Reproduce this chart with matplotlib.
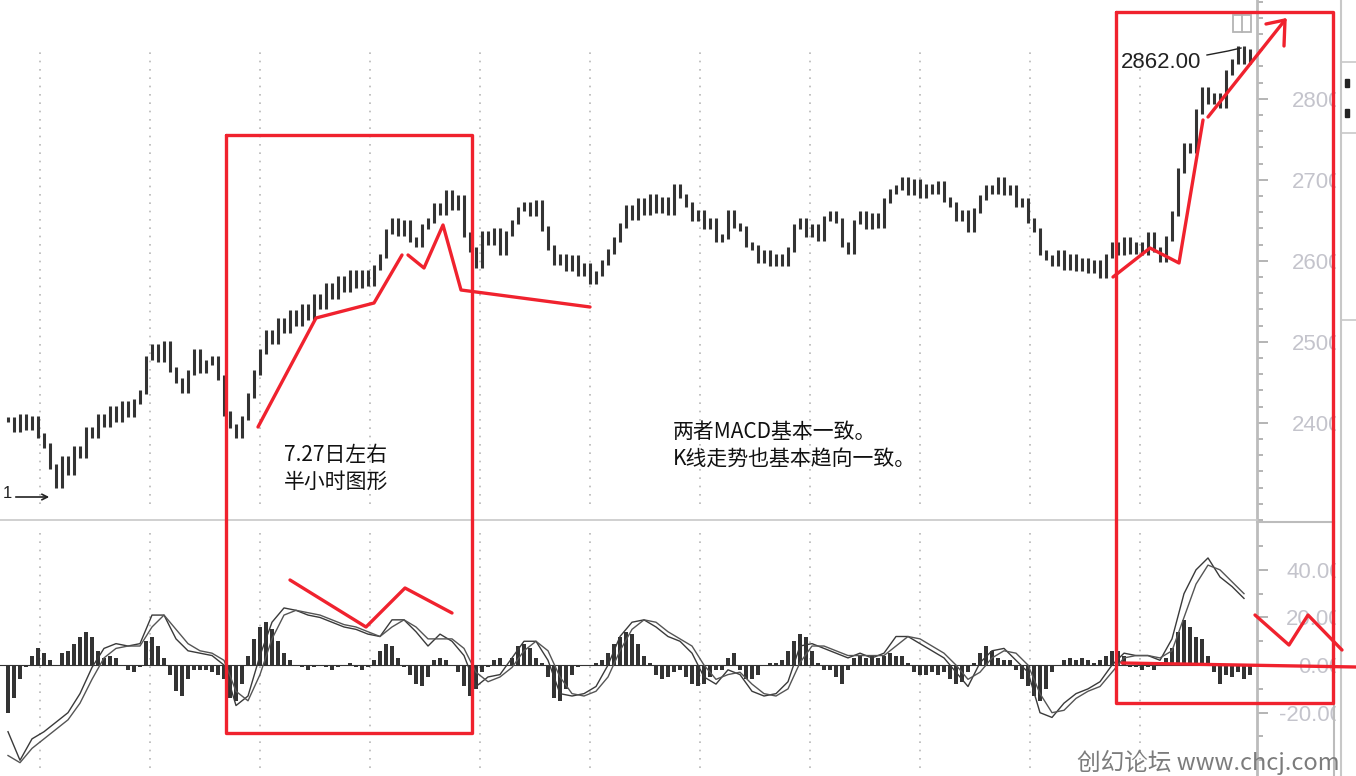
import matplotlib
matplotlib.use('Agg')
import matplotlib.pyplot as plt
import numpy as np
from matplotlib.ticker import MultipleLocator, FormatStrFormatter
from matplotlib.patches import Rectangle

W, H = 1356, 776
RED = '#f0222e'
INK = '#333333'
AXIS_GRAY = '#bcbcbc'
LABEL_GRAY = '#c4c4cc'
CJK = ['Noto Sans CJK SC', 'DejaVu Sans']
LATIN = ['Liberation Sans', 'DejaVu Sans']

# price closes, one bar every 6 px of the original chart
close = [
    2404, 2392, 2408, 2394, 2406, 2384, 2372, 2346, 2322, 2356,
    2338, 2368, 2360, 2392, 2384, 2408, 2398, 2418, 2404, 2424,
    2410, 2426, 2438, 2480, 2494, 2478, 2498, 2466, 2452, 2440,
    2462, 2488, 2464, 2474, 2480, 2456, 2412, 2396, 2384, 2406,
    2434, 2462, 2488, 2512, 2500, 2526, 2514, 2536, 2522, 2544,
    2530, 2556, 2544, 2570, 2556, 2578, 2564, 2586, 2570, 2586,
    2572, 2592, 2606, 2636, 2650, 2634, 2648, 2626, 2620, 2642,
    2650, 2668, 2660, 2684, 2666, 2678, 2632, 2614, 2594, 2634,
    2622, 2638, 2610, 2634, 2648, 2664, 2670, 2658, 2672, 2640,
    2616, 2598, 2606, 2590, 2604, 2584, 2594, 2574, 2584, 2598,
    2612, 2626, 2644, 2666, 2654, 2674, 2660, 2680, 2662, 2676,
    2660, 2692, 2680, 2670, 2652, 2660, 2642, 2650, 2626, 2630,
    2660, 2644, 2640, 2620, 2616, 2600, 2610, 2596, 2606, 2596,
    2614, 2642, 2650, 2632, 2642, 2628, 2652, 2658, 2650, 2620,
    2612, 2648, 2658, 2642, 2656, 2644, 2674, 2686, 2690, 2700,
    2684, 2698, 2680, 2692, 2686, 2696, 2676, 2670, 2652, 2660,
    2638, 2662, 2678, 2690, 2686, 2700, 2684, 2690, 2670, 2674,
    2650, 2638, 2610, 2604, 2596, 2610, 2592, 2606, 2590, 2600,
    2588, 2598, 2582, 2606, 2620, 2610, 2626, 2612, 2620, 2610,
    2632, 2614, 2602, 2628, 2658, 2712, 2742, 2736, 2784, 2812,
    2796, 2804, 2792, 2832, 2846, 2862, 2846, 2858,
]

# MACD histogram, same bars as the price
macd_hist = [
    -20, -14, -6, -1, 4, 7, 5, 2, 0, 5,
    6, 9, 12, 14, 12, 6, 3, 4, 3, 0,
    -2, -3, -1, 10, 12, 8, 3, -4, -11, -13,
    -6, -2, -2, -2, -3, -4, -6, -14, -15, -8,
    4, 11, 16, 18, 15, 10, 5, 2, 0, -1,
    -2, -1, 0, -1, -2, -1, 0, 1, -1, -2,
    -1, 2, 6, 9, 8, 3, -1, -4, -8, -9,
    -5, 2, 3, 2, 0, -3, -9, -13, -10, -3,
    -1, 2, 3, 0, 3, 8, 9, 7, 3, 1,
    -5, -14, -15, -10, -4, -1, 0, 0, 1, 2,
    5, 9, 12, 14, 13, 9, 4, 1, -4, -6,
    -5, -3, -2, -5, -8, -9, -8, -5, -2, -2,
    3, 5, -2, -6, -6, -4, 0, 1, 1, 2,
    6, 10, 13, 12, 6, 1, -2, -2, -5, -8,
    -2, 3, 4, 3, 4, 3, 4, 5, 4, 4,
    1, -3, -4, -4, -3, -4, -3, -6, -8, -7,
    -3, 1, 5, 8, 6, 3, 2, 2, -2, -6,
    -9, -13, -15, -10, -3, 0, 2, 3, 2, 3,
    2, 1, 2, 4, 6, 6, 4, -1, -1, -2,
    -1, -2, 0, 3, 7, 14, 19, 16, 12, 11,
    4, -3, -8, -4, -5, -3, -6, -4,
]

# DIF / DEA lines, one point every second bar
dif = [
    -28, -40, -31, -28, -24, -20, -12, -1, 7, 9,
    8, 9, 21, 21, 11, 6, 5, 4, 0, -17,
    -13, 4, 18, 24, 23, 21, 20, 18, 16, 15,
    13, 12, 19, 19, 14, 8, 13, 10, 4, -9,
    -5, -4, 3, 10, 10, 2, -12, -13, -12, -9,
    0, 12, 18, 19, 16, 12, 10, 5, -5, -8,
    -2, -4, -11, -13, -12, -7, 8, 9, 7, 5,
    3, 5, 3, 5, 12, 12, 9, 6, 3, -3,
    -9, 1, 6, 7, 2, -3, -20, -22, -16, -12,
    -10, -7, 0, 5, 4, 4, 2, 11, 30, 40,
    45, 37, 33, 28,
]
dea = [
    -38, -41, -35, -31, -27, -23, -16, -6, 3, 7,
    8, 8, 16, 21, 15, 9, 6, 5, 2, -11,
    -15, -4, 11, 21, 23, 22, 21, 19, 17, 16,
    14, 12, 16, 19, 16, 11, 11, 11, 7, -3,
    -7, -5, -1, 6, 10, 6, -5, -12, -13, -11,
    -5, 6, 15, 19, 18, 14, 11, 8, 0, -6,
    -4, -3, -8, -12, -13, -10, 1, 8, 8, 6,
    4, 4, 4, 4, 8, 12, 11, 8, 5, 0,
    -6, -3, 3, 6, 5, 0, -12, -20, -19, -14,
    -11, -9, -3, 3, 4, 4, 3, 6, 20, 34,
    42, 40, 35, 30,
]

price_ticks = [2400, 2500, 2600, 2700, 2800]
macd_ticks = [-20, 0, 20, 40]

# hand-drawn red annotations, in screen pixels of the original picture
box_left = [(226, 135), (472, 135), (472, 733), (226, 733), (226, 135)]
box_right = [(1116, 12), (1333, 12), (1333, 703), (1116, 703), (1116, 12)]
stroke_a = [(258, 427), (316, 318), (374, 303), (402, 255)]
stroke_b = [(408, 255), (424, 268), (443, 225), (461, 290), (590, 307)]
stroke_c = [(1113, 277), (1150, 248), (1179, 263), (1203, 120)]
stroke_d = [(1208, 117), (1285, 20)]
arrow_head = [(1266, 24), (1285, 20), (1284, 46)]
macd_a = [(290, 580), (366, 627), (405, 588), (452, 613)]
macd_b = [(1255, 615), (1289, 645), (1308, 615), (1342, 650)]
macd_zero = [(1122, 663), (1356, 667)]


def px_rect(x0, y0, x1, y1):
    return [x0 / W, 1 - y1 / H, (x1 - x0) / W, (y1 - y0) / H]


fig = plt.figure(figsize=(W / 100, H / 100), dpi=100)
fig.patch.set_facecolor('white')

ax1 = fig.add_axes(px_rect(0, 0, 1257, 520))
ax2 = fig.add_axes(px_rect(0, 522, 1257, 776))

step = 6.0          # px per bar
x0_px = 8.0         # first bar position
xlim = (-x0_px / step, (1257 - x0_px) / step)

# price bars: each bar spans the move from the previous close
idx = np.arange(len(close))
c = np.array(close, dtype=float)
prev = np.r_[c[0], c[:-1]]
ax1.vlines(idx, np.minimum(prev, c) - 3, np.maximum(prev, c) + 3, color=INK, lw=2.2, zorder=3)

# MACD
hidx = np.arange(len(macd_hist))
ax2.bar(hidx, macd_hist, width=0.8, color=INK, zorder=3)
ax2.axhline(0, color=INK, lw=0.8, zorder=2)
lidx = np.arange(len(dif)) * 2
ax2.plot(lidx, dif, color='#3a3a3a', lw=1.0, zorder=4)
ax2.plot(lidx, dea, color='#555555', lw=1.0, zorder=4)

# dotted vertical grid
grid_px = np.arange(40, 1200, 110)
for g in grid_px:
    gi = (g - x0_px) / step
    ax1.axvline(gi, ymin=0.03, ymax=0.91, color='#b8b8b8', lw=1.2, ls=(0, (1, 4)), zorder=1)
    ax2.axvline(gi, ymin=0.03, ymax=0.97, color='#b8b8b8', lw=1.2, ls=(0, (1, 4)), zorder=1)

ax1.set_xlim(*xlim)
ax2.set_xlim(*xlim)
ax1.set_ylim(2280, 2922)
ax2.set_ylim(-46.6, 60.1)

for ax in (ax1, ax2):
    ax.set_facecolor('none')
    for s in ('top', 'left'):
        ax.spines[s].set_visible(False)
    ax.spines['right'].set_color(AXIS_GRAY)
    ax.spines['right'].set_linewidth(2)
    ax.spines['bottom'].set_color('#c8c8c8')
    ax.spines['bottom'].set_linewidth(1.2)
    ax.set_xticks([])
    ax.yaxis.tick_right()
    ax.tick_params(axis='y', which='major', direction='out', length=8, width=1.2,
                   color='#a8a8a8', labelcolor=LABEL_GRAY, labelsize=16, pad=53)
    ax.tick_params(axis='y', which='minor', direction='out', length=4, width=1.2,
                   color='#a8a8a8')
ax2.spines['bottom'].set_visible(False)

ax1.set_yticks(price_ticks)
ax1.yaxis.set_minor_locator(MultipleLocator(20))
ax2.set_yticks(macd_ticks)
ax2.yaxis.set_minor_locator(MultipleLocator(10))
ax2.yaxis.set_major_formatter(FormatStrFormatter('%.2f'))
for ax in (ax1, ax2):
    for lab in ax.get_yticklabels():
        lab.set_horizontalalignment('right')
        lab.set_family(LATIN)

# overlay in picture pixels
ov = fig.add_axes([0, 0, 1, 1])
ov.set_xlim(0, W)
ov.set_ylim(H, 0)
ov.axis('off')
ov.patch.set_alpha(0)

# right-hand frame pieces
ov.plot([1257, 1334], [522, 522], color=AXIS_GRAY, lw=1.5)
ov.plot([1334, 1334], [522, 776], color=AXIS_GRAY, lw=1.5)
ov.add_patch(Rectangle((1336, 0), 4, H, color='white', zorder=2))
ov.plot([1341, 1341], [0, H], color='#c8c8c8', lw=1.5)
for yy in (62, 133, 320):
    ov.plot([1341, 1356], [yy, yy], color='#c8c8c8', lw=1.2)
for yy in (83, 113):
    ov.add_patch(Rectangle((1345, yy - 4), 4, 8, color='#222222'))
ov.add_patch(Rectangle((1233, 15), 18, 17, fill=False, ec='#b4b4b4', lw=1.3))
ov.plot([1242, 1242], [15, 32], color='#b4b4b4', lw=1.3)

# red hand drawing
for pts in (box_left, box_right, stroke_a, stroke_b, stroke_c, stroke_d,
            arrow_head, macd_a, macd_b, macd_zero):
    xs, ys = zip(*pts)
    ov.plot(xs, ys, color=RED, lw=2.4, solid_capstyle='round',
            solid_joinstyle='round', zorder=5)

# texts
ov.text(284, 455, '7.27日左右', fontsize=15, family=CJK, va='center', color='#111111')
ov.text(284, 482, '半小时图形', fontsize=15, family=CJK, va='center', color='#111111')
ov.text(673, 432, '两者MACD基本一致。', fontsize=15, family=CJK, va='center', color='#111111')
ov.text(673, 459, 'K线走势也基本趋向一致。', fontsize=15, family=CJK, va='center', color='#111111')
ov.text(1121, 62, '2862.00', fontsize=16, family=LATIN, va='center', color='#222222')
ov.plot([1207, 1228, 1241], [55, 51, 48], color='#222222', lw=1)
ov.text(1340, 762, '创幻论坛 www.chcj.com', fontsize=17, family=CJK, ha='right',
        va='center', color='#7c7c7c')
ov.text(3, 494, '1', fontsize=12, family=LATIN, va='center', color='#222222')
ov.annotate('', xy=(52, 497), xytext=(13, 497),
            arrowprops=dict(arrowstyle='->', color='#222222', lw=1.2))

fig.savefig('out.png', dpi=100, facecolor='white')
plt.close(fig)
